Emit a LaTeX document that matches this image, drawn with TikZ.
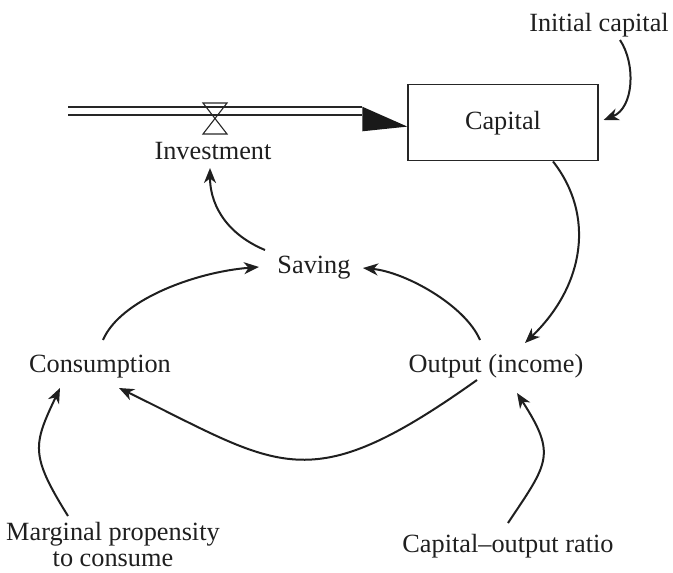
\documentclass[tikz,border=0pt]{standalone}
\usepackage{fontspec}
\setmainfont{Liberation Serif}
\usetikzlibrary{arrows.meta}

\tikzset{
  lbl/.style={font=\fontsize{26.3}{26}\selectfont, inner sep=0pt, text=black!88},
  stock/.style={draw=black!85, line width=1.3pt, minimum width=190pt, minimum height=76pt,
                font=\fontsize{26.3}{27}\selectfont, text=black!88},
  link/.style={line width=2pt, draw=black!88,
               -{Stealth[length=15pt,width=12pt,inset=4.5pt]}},
  pipe/.style={draw=black!85, line width=1.2pt},
  valvestyle/.style={draw=black!85, line width=1.1pt},
}

\begin{document}
\begin{tikzpicture}[x=1pt,y=-1pt]
  \useasboundingbox (0,0) rectangle (673,573);

  % variables
  \node[lbl, anchor=base] (ic)   at (599,31)  {Initial capital};
  \node[stock]            (cap)  at (503,122.8) {Capital};
  \node[lbl, anchor=base] (inv)  at (213,159) {Investment};
  \node[lbl, anchor=base] (sav)  at (314,273) {Saving};
  \node[lbl, anchor=base] (cons) at (100,372) {Consumption};
  \node[lbl, anchor=base] (out)  at (496,372) {Output (income)};
  \node[lbl, anchor=north, align=center] (mpc) at (113,522) {Marginal propensity\\to consume};
  \node[lbl, anchor=base] (cor)  at (508,552) {Capital--output ratio};

  % inflow pipe into the stock
  \coordinate (src)   at (68,115);
  \coordinate (valve) at (215,119);
  \coordinate (head)  at ([shift={(-45,-3.8)}]cap.west);
  \draw[pipe] (src) -- (src -| head);
  \draw[pipe] ([yshift=8]src) -- ([yshift=8]src -| head);
  \fill[black!90] ([yshift=-12.3]head) -- ([yshift=12.3]head) -- ([yshift=-3.8]cap.west) -- cycle;

  % valve on the pipe
  \draw[valvestyle] ([shift={(-12,-16)}]valve) -- ([shift={(12,-16)}]valve)
                    -- ([shift={(-12,15)}]valve) -- ([shift={(12,15)}]valve)
                    -- cycle;

  % causal links
  \draw[link] ([shift={(21,9)}]ic.base)
      .. controls (636,64) and (634,108) .. ([shift={(5,-2.8)}]cap.east);
  \draw[link] ([shift={(50,0)}]cap.south)
      .. controls (595,215) and (585,285) .. ([shift={(29,-29)}]out.base);
  \draw[link] ([shift={(-16,-32)}]out.base)
      .. controls (465,305) and (405,272) .. ([shift={(49,-5)}]sav.base);
  \draw[link] ([shift={(3,-32)}]cons.base)
      .. controls (120,300) and (195,272) .. ([shift={(-55,-6)}]sav.base);
  \draw[link] ([shift={(-49,-23)}]sav.base)
      .. controls (222,232) and (210,200) .. ([shift={(-3,9)}]inv.base);
  \draw[link] ([shift={(-19,8)}]out.base)
      .. controls (307,501) and (281,467) .. ([shift={(19,16)}]cons.base);
  \draw[link] ([shift={(-45,-6)}]mpc.north)
      .. controls (30,455) and (33,445) .. ([shift={(-40,16)}]cons.base);
  \draw[link] ([shift={(0,-29)}]cor.base)
      .. controls (548,463) and (557,455) .. ([shift={(21,21)}]out.base);
\end{tikzpicture}
\end{document}
